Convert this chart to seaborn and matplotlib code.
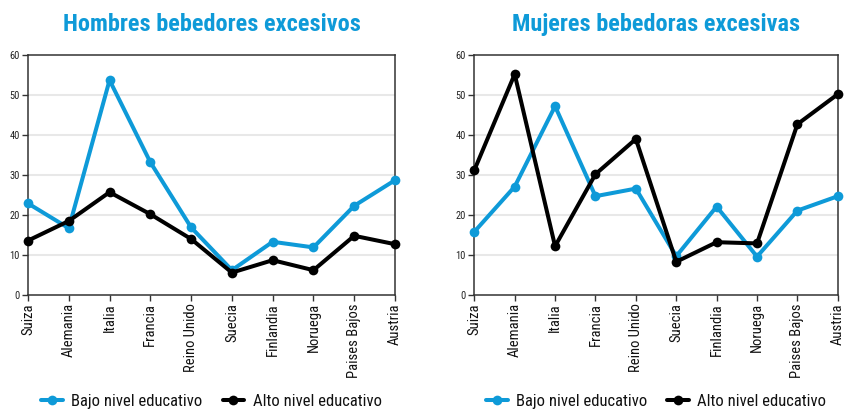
import matplotlib
matplotlib.use("Agg")
import matplotlib.pyplot as plt
import seaborn as sns
import pandas as pd
from matplotlib.lines import Line2D
from matplotlib import font_manager

countries = ["Suiza", "Alemania", "Italia", "Francia", "Reino Unido", "Suecia",
             "Finlandia", "Noruega", "Paises Bajos", "Austria"]
hombres_bajo = [22.9, 16.7, 53.7, 33.2, 16.9, 6.2, 13.3, 11.9, 22.3, 28.7]
hombres_alto = [13.6, 18.5, 25.7, 20.2, 14.0, 5.6, 8.7, 6.2, 14.8, 12.7]
mujeres_bajo = [15.8, 27.1, 47.2, 24.7, 26.6, 9.7, 22.1, 9.6, 21.1, 24.7]
mujeres_alto = [31.2, 55.2, 12.2, 30.2, 39.0, 8.3, 13.2, 12.9, 42.7, 50.2]
series_names = ["Bajo nivel educativo", "Alto nivel educativo"]
titles = ["Hombres bebedores excesivos", "Mujeres bebedoras excesivas"]
yticks = [0, 10, 20, 30, 40, 50, 60]

sns.set_theme(style="white")
available = {f.name for f in font_manager.fontManager.ttflist}
fams = [f for f in ['Roboto Condensed', 'Liberation Sans Narrow', 'Roboto'] if f in available]
plt.rcParams['font.family'] = fams + ['DejaVu Sans']

BLUE = "#0e9ad8"
BLACK = "#000000"
colors = [BLUE, BLACK]

fig = plt.figure(figsize=(8.45, 4.12), dpi=100)
ax1 = fig.add_axes([28/845, 117/412, 367/845, 240/412])
ax2 = fig.add_axes([474.3/845, 117/412, 363.5/845, 240/412])

panels = [(ax1, hombres_bajo, hombres_alto, titles[0]),
          (ax2, mujeres_bajo, mujeres_alto, titles[1])]

for ax, bajo, alto, title in panels:
    df = pd.DataFrame({
        "x": list(range(len(countries))) * 2,
        "y": bajo + alto,
        "serie": [series_names[0]] * len(countries) + [series_names[1]] * len(countries),
    })
    for i, name in enumerate(series_names):
        sub = df[df["serie"] == name]
        sns.lineplot(data=sub, x="x", y="y", ax=ax, color=colors[i],
                     marker="o", markersize=7, markeredgewidth=0,
                     linewidth=2.9, legend=False, clip_on=False, zorder=3)
    ax.set_xlim(0, len(countries) - 1)
    ax.set_ylim(0, 60)
    ax.set_yticks(yticks)
    ax.set_yticklabels([str(t) for t in yticks], fontsize=7.5, color="#222222")
    ax.set_xticks(range(len(countries)))
    ax.set_xticklabels(countries, rotation=90, fontsize=10.5, color="#111111")
    ax.set_xlabel("")
    ax.set_ylabel("")
    ax.tick_params(axis="both", which="both", length=4, width=1, color="#333333",
                   direction="out", pad=2, left=True, bottom=True)
    for s in ax.spines.values():
        s.set_color("#333333")
        s.set_linewidth(1.1)
    for t in yticks[1:-1]:
        ax.axhline(t, color="#e8e8e8", linewidth=1.5, zorder=0)
    ax.set_title(title, color=BLUE, fontsize=17.5, fontweight="bold", pad=17)
    handles = [Line2D([0], [0], color=colors[i], linewidth=2.9, marker="o",
                      markersize=7, markeredgewidth=0) for i in range(2)]
    ax.legend(handles, series_names, loc="center", bbox_to_anchor=(0.5, -0.445),
              ncol=2, frameon=False, fontsize=12, handlelength=1.3,
              columnspacing=1.2, handletextpad=0.5, labelcolor="#111111")

fig.savefig("out.png", dpi=100)
